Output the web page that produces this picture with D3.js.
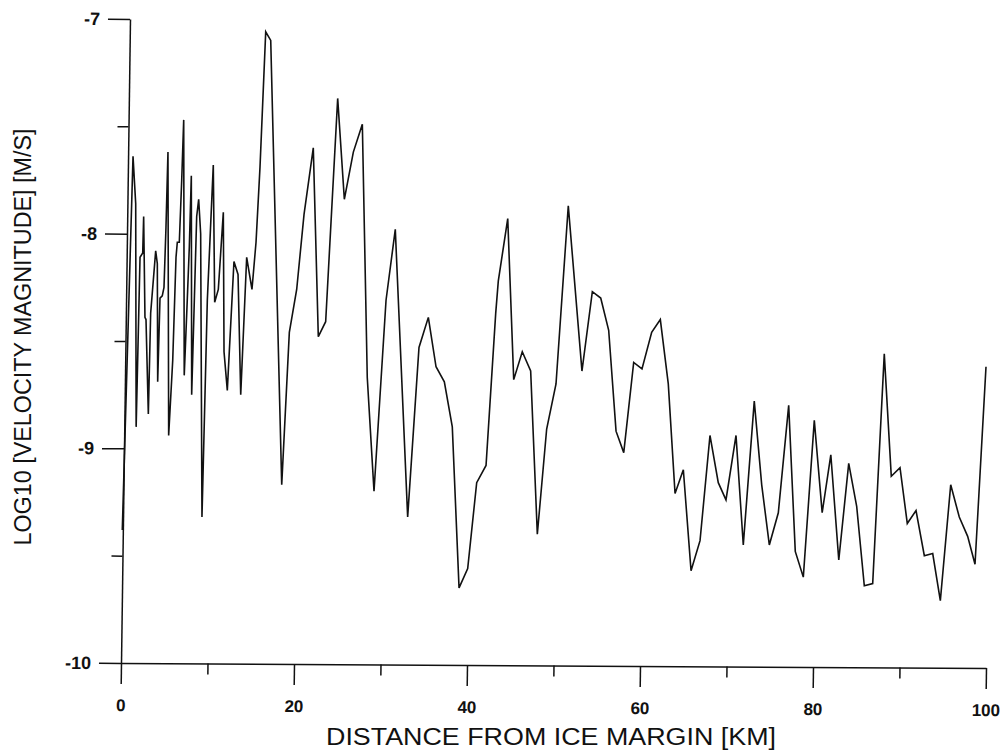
<!DOCTYPE html>
<html>
<head>
<meta charset="utf-8">
<script src="https://cdn.jsdelivr.net/npm/d3@7"></script>
<style>
  html, body { margin: 0; padding: 0; background: #fff; }
  svg { display: block; }
  .axis text { font-family: "Liberation Sans", Arial, sans-serif; font-weight: bold; fill: #111; }
  .axis path, .axis line { stroke: #111; stroke-width: 1.5; }
  .title { font-family: "Liberation Sans", Arial, sans-serif; fill: #111; }
</style>
</head>
<body>
<svg id="chart" width="1002" height="751"></svg>
<script>
// distance from ice margin (km) and log10 velocity magnitude (m/s)
let distanceKm = [0.15, 1.39, 1.70, 1.75, 2.20, 2.51, 2.62, 2.77, 2.89, 3.16,
  3.43, 4.01, 4.20, 4.24, 4.51, 4.77, 4.97, 5.20, 5.43, 5.51,
  5.98, 6.36, 6.51, 6.74, 7.02, 7.25, 7.31, 7.66, 7.90, 8.13,
  8.17, 8.75, 8.98, 9.21, 9.36, 9.98, 10.67, 10.83, 11.25, 11.83,
  11.91, 12.29, 13.06, 13.53, 13.84, 14.53, 15.14, 15.61, 16.07, 16.73,
  17.31, 18.58, 19.46, 20.31, 21.16, 22.23, 22.81, 23.66, 25.05, 25.82,
  26.86, 27.90, 28.47, 29.25, 30.64, 31.71, 33.14, 34.45, 35.53, 36.42,
  37.38, 38.30, 39.08, 40.08, 41.12, 42.20, 43.32, 43.62, 44.71, 45.40,
  46.39, 47.36, 48.13, 49.21, 50.29, 51.71, 53.29, 54.49, 55.46, 56.38,
  57.23, 58.12, 59.27, 60.23, 61.35, 62.35, 63.27, 64.05, 65.01, 65.90,
  66.94, 68.09, 69.05, 69.94, 71.10, 71.94, 73.21, 74.07, 74.95, 75.99,
  77.19, 77.95, 78.88, 80.15, 81.06, 82.06, 82.98, 84.13, 85.05, 85.93,
  86.90, 88.24, 89.05, 90.06, 90.90, 91.91, 92.87, 93.84, 94.72, 95.92,
  96.91, 97.88, 98.73, 100.0];

let logVelocity = [-9.38, -7.64, -7.86, -8.90, -8.11, -8.09, -7.92, -8.39, -8.40, -8.84,
  -8.37, -8.08, -8.14, -8.69, -8.30, -8.29, -8.25, -7.97, -7.62, -8.94,
  -8.59, -8.11, -8.04, -8.04, -7.75, -7.47, -8.66, -8.31, -8.06, -7.73,
  -8.75, -7.92, -7.84, -8.00, -9.32, -8.31, -7.68, -8.32, -8.26, -7.90,
  -8.55, -8.73, -8.13, -8.19, -8.75, -8.11, -8.26, -8.04, -7.69, -7.06,
  -7.10, -9.17, -8.46, -8.26, -7.91, -7.60, -8.48, -8.41, -7.37, -7.84,
  -7.62, -7.49, -8.67, -9.20, -8.31, -7.98, -9.32, -8.53, -8.39, -8.62,
  -8.69, -8.90, -9.65, -9.56, -9.16, -9.08, -8.37, -8.22, -7.93, -8.68,
  -8.55, -8.64, -9.40, -8.91, -8.70, -7.87, -8.64, -8.27, -8.30, -8.45,
  -8.92, -9.02, -8.60, -8.63, -8.46, -8.40, -8.70, -9.21, -9.10, -9.57,
  -9.43, -8.94, -9.16, -9.24, -8.94, -9.45, -8.78, -9.17, -9.45, -9.30,
  -8.80, -9.48, -9.60, -8.87, -9.30, -9.03, -9.52, -9.07, -9.27, -9.64,
  -9.63, -8.56, -9.13, -9.09, -9.35, -9.29, -9.50, -9.49, -9.71, -9.17,
  -9.32, -9.41, -9.54, -8.62];

let xMajorTicks = [0, 20, 40, 60, 80, 100];
let xMinorTicks = [10, 30, 50, 70, 90];
let yMajorTicks = [-7, -8, -9, -10];
let yMinorTicks = [-7.5, -8.5, -9.5];

let xTitle = "DISTANCE FROM ICE MARGIN [KM]";
let yTitle = "LOG10 [VELOCITY MAGNITUDE] [M/S]";

const svg = d3.select("#chart");
const x0 = 121, x1 = 986, yTop = 19, yBot = 663;

let x = d3.scaleLinear().domain([0, 100]).range([x0, x1]);
let y = d3.scaleLinear().domain([-10, -7]).range([yBot, yTop]);

svg.append("rect").attr("width", 1002).attr("height", 751).attr("fill", "#fff");

// the scanned original is a little skewed, so the frame gets a slight shear
let kx = -9 / 644, ky = 5 / 865;
let gAxes = svg.append("g")
  .attr("transform", `translate(${x0},${yBot}) matrix(1,${ky},${kx},1,0,0) translate(${-x0},${-yBot})`);

gAxes.append("g").attr("class", "axis")
  .attr("transform", `translate(${x0},0)`)
  .call(d3.axisLeft(y).tickValues(yMajorTicks).tickSize(22).tickSizeOuter(0).tickPadding(8)
    .tickFormat(d => String(d)))
  .attr("font-size", 18);

gAxes.append("g").attr("class", "axis")
  .attr("transform", `translate(${x0},0)`)
  .call(d3.axisLeft(y).tickValues(yMinorTicks).tickSize(11).tickFormat(""))
  .call(g => g.select(".domain").remove());

gAxes.append("g").attr("class", "axis")
  .attr("transform", `translate(0,${yBot})`)
  .call(d3.axisBottom(x).tickValues(xMajorTicks).tickSize(21).tickSizeOuter(0).tickPadding(15))
  .attr("font-size", 17);

gAxes.append("g").attr("class", "axis")
  .attr("transform", `translate(0,${yBot})`)
  .call(d3.axisBottom(x).tickValues(xMinorTicks).tickSize(11).tickFormat(""))
  .call(g => g.select(".domain").remove());

// velocity profile
let points = distanceKm.map((d, i) => [d, logVelocity[i]]);
svg.append("path")
  .datum(points)
  .attr("fill", "none")
  .attr("stroke", "#111")
  .attr("stroke-width", 1.6)
  .attr("stroke-linejoin", "miter")
  .attr("d", d3.line().x(d => x(d[0])).y(d => y(d[1])));

svg.append("text").attr("class", "title")
  .attr("x", 551).attr("y", 745)
  .attr("text-anchor", "middle")
  .attr("font-size", 23)
  .attr("textLength", 450).attr("lengthAdjust", "spacingAndGlyphs")
  .text(xTitle);

svg.append("text").attr("class", "title")
  .attr("transform", "translate(31,337) rotate(-90)")
  .attr("text-anchor", "middle")
  .attr("font-size", 23)
  .attr("textLength", 417).attr("lengthAdjust", "spacingAndGlyphs")
  .text(yTitle);
</script>
</body>
</html>
